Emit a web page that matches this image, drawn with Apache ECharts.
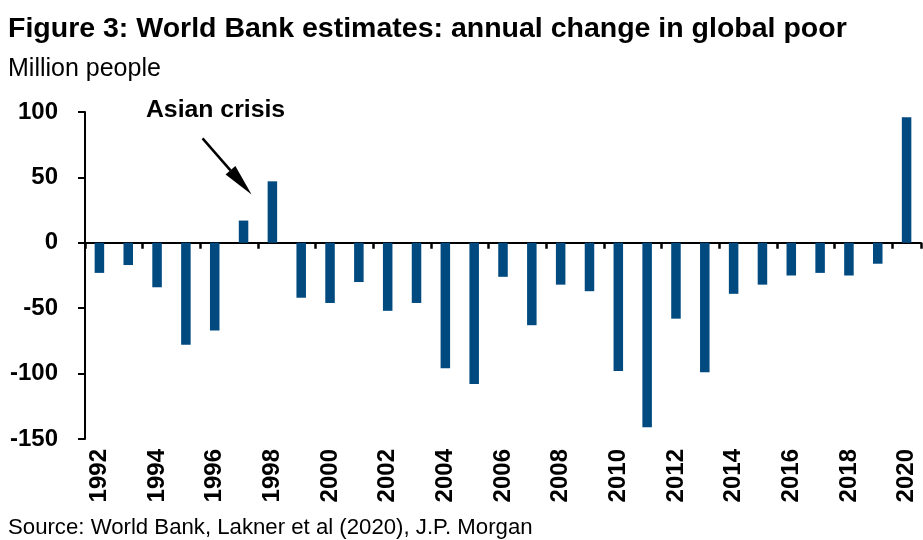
<!DOCTYPE html>
<html><head><meta charset="utf-8">
<script src="https://cdn.jsdelivr.net/npm/echarts/dist/echarts.min.js"></script>
<style>html,body{margin:0;padding:0;background:#fff}#c{width:923px;height:540px}</style>
</head><body><div id="c"></div>
<script>
const years = ['1992','1993','1994','1995','1996','1997','1998','1999','2000','2001','2002','2003','2004','2005','2006','2007','2008','2009','2010','2011','2012','2013','2014','2015','2016','2017','2018','2019','2020'];
const changeInPoor = [-23,-17,-34,-78,-67,17,47,-42,-46,-30,-52,-46,-96,-108,-26,-63,-32,-37,-98,-141,-58,-99,-39,-32,-25,-23,-25,-16,96];
const yMin = -150, yMax = 100, yStep = 50;
const titleText = 'Figure 3: World Bank estimates: annual change in global poor';
const unitText = 'Million people';
const sourceText = 'Source: World Bank, Lakner et al (2020), J.P. Morgan';
const noteText = 'Asian crisis';
const noteYear = '1997', noteValue = 37;

const FONT = "'Liberation Sans', Arial, sans-serif";
const chart = echarts.init(document.getElementById('c'), null, {renderer: 'canvas'});
const option = {
  animation: false,
  backgroundColor: '#fff',
  grid: {left: 85, right: 2, top: 112, bottom: 101, containLabel: false},
  xAxis: [
    {type: 'category', data: years, position: 'bottom',
     axisLine: {show: false, onZero: false}, axisTick: {show: false},
     axisLabel: {interval: 1, rotate: 90, margin: 10, color: '#000', fontFamily: FONT, fontWeight: 'bold', fontSize: 24}},
    {type: 'category', data: years, position: 'bottom',
     axisLine: {show: true, onZero: true, lineStyle: {color: '#000', width: 2}},
     axisTick: {show: true, interval: 1, length: 6, lineStyle: {color: '#000', width: 2.5}},
     axisLabel: {show: true, interval: 1, formatter: function () { return ''; }}}
  ],
  yAxis: {type: 'value', min: yMin, max: yMax, interval: yStep,
    axisLine: {show: true, lineStyle: {color: '#000', width: 2}},
    axisTick: {show: true, length: 7, lineStyle: {color: '#000', width: 2}},
    splitLine: {show: false},
    axisLabel: {margin: 27, color: '#000', fontFamily: FONT, fontWeight: 'bold', fontSize: 24}},
  series: [{type: 'bar', xAxisIndex: 0, data: changeInPoor, barWidth: '33%',
    itemStyle: {color: '#004a80'}}]
};
chart.setOption(option);
const tip = chart.convertToPixel({xAxisIndex: 0, yAxisIndex: 0}, [noteYear, noteValue]);
const tx = tip[0] + 8, ty = tip[1];
const sx = tx - 49, sy = ty - 56;
const ang = Math.atan2(ty - sy, tx - sx);
const hl = 32, hw = 6.5;
const bx = tx - hl * Math.cos(ang), by = ty - hl * Math.sin(ang);
const px = -Math.sin(ang) * hw, py = Math.cos(ang) * hw;
chart.setOption({graphic: [
  {id: 'title', type: 'text', left: 8, top: 15, style: {text: titleText, fill: '#000', font: "bold 28.5px " + FONT}},
  {id: 'unit', type: 'text', left: 8, top: 57, style: {text: unitText, fill: '#000', font: "25px " + FONT}},
  {id: 'source', type: 'text', left: 8, top: 517, style: {text: sourceText, fill: '#000', font: "22.2px " + FONT}},
  {id: 'arrowLine', type: 'line', shape: {x1: sx, y1: sy, x2: bx, y2: by}, style: {stroke: '#000', lineWidth: 2.5}},
  {id: 'arrowHead', type: 'polygon', shape: {points: [[tx, ty], [bx + px, by + py], [bx - px, by - py]]}, style: {fill: '#000'}},
  {id: 'note', type: 'text', x: sx + 13, y: sy - 16, style: {text: noteText, fill: '#000', font: "bold 24.8px " + FONT, align: 'center', verticalAlign: 'bottom'}}
]});
</script></body></html>
